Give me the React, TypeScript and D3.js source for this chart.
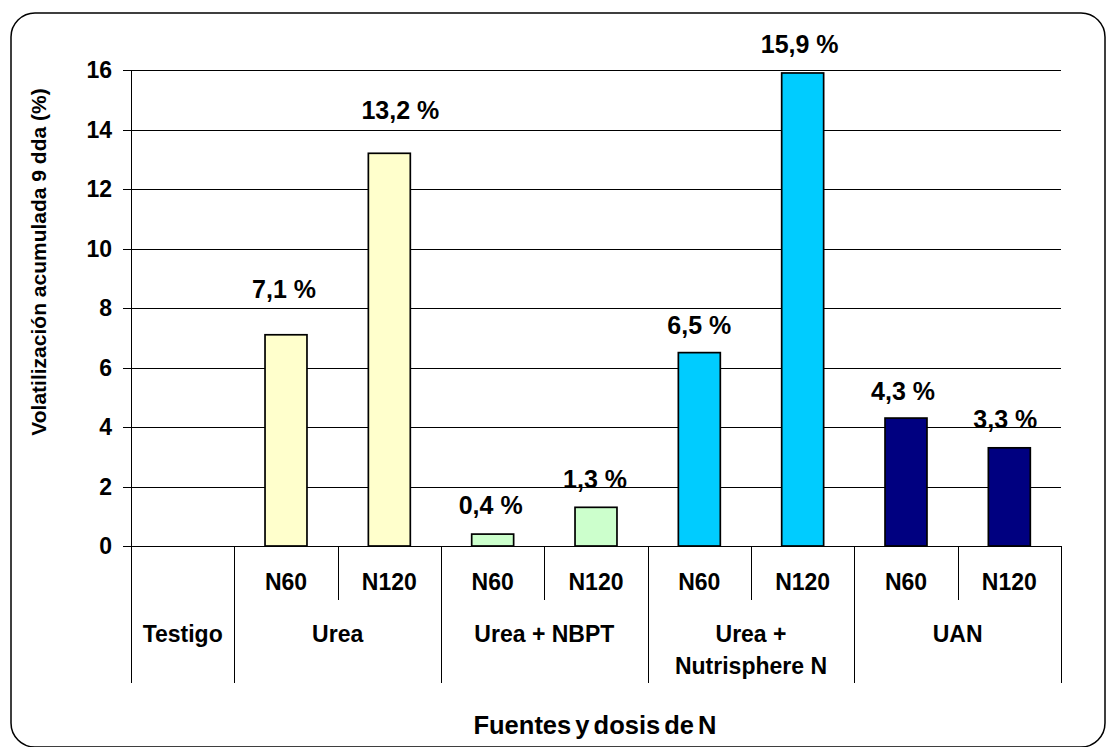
import React from "react";
import * as d3 from "d3";

// ---- data ----
const groups = ["Testigo", "Urea", "Urea + NBPT", "Urea + Nutrisphere N", "UAN"];
const doses = ["N60", "N120"];
const ureaValues = [7.1, 13.2];
const nbptValues = [0.4, 1.3];
const nutrisphereValues = [6.5, 15.9];
const uanValues = [4.3, 3.3];
const valueLabels = ["7,1 %", "13,2 %", "0,4 %", "1,3 %", "6,5 %", "15,9 %", "4,3 %", "3,3 %"];
const yTicks = [0, 2, 4, 6, 8, 10, 12, 14, 16];
const yTitle = "Volatilización acumulada 9 dda (%)";
const xTitle = "Fuentes y dosis de N";

// ---- style (not data) ----
const groupColors = ["none", "#FFFFCC", "#CCFFCC", "#00CCFF", "#000080"];
const labelDx = [-2, 11, -2, -1, 0, -3, -3, -4];
const labelGap = [37, 34, 20, 19, 19, 20, 18, 20];

const W = 1107;
const H = 747;
const plotLeft = 131;
const plotRight = 1061;
const plotTop = 70;
const plotBottom = 546;
const FONT = "'Liberation Sans', Arial, sans-serif";

export default function App() {
  const seriesByGroup = [null, ureaValues, nbptValues, nutrisphereValues, uanValues];
  const slots: { key: string; group: number; dose: number | null; value: number | null }[] = [];
  groups.forEach((g, gi) => {
    const vals = seriesByGroup[gi];
    if (!vals) slots.push({ key: g, group: gi, dose: null, value: null });
    else doses.forEach((d, di) => slots.push({ key: g + "|" + d, group: gi, dose: di, value: vals[di] }));
  });

  const x = d3.scaleBand<string>().domain(slots.map((s) => s.key)).range([plotLeft, plotRight]).paddingInner(0).paddingOuter(0);
  const y = d3.scaleLinear().domain([0, 16]).range([plotBottom, plotTop]);
  const bw = x.bandwidth() * 0.406;

  const bars = slots.filter((s) => s.value !== null);

  const groupSpans = groups.map((g, gi) => {
    const ss = slots.filter((s) => s.group === gi);
    const x0 = x(ss[0].key)!;
    const x1 = x(ss[ss.length - 1].key)! + x.bandwidth();
    return { g, gi, x0, x1 };
  });

  const subRowY = 590;
  const groupRowY = 642;
  const tableBottom = 683;

  return (
    <div style={{ position: "fixed", left: 0, top: 0 }}>
      <svg width={W} height={H} style={{ display: "block", background: "#fff" }} fontFamily={FONT}>
        <rect x={11} y={13} width={1094} height={734} rx={24} ry={24} fill="#fff" stroke="#000" strokeWidth={1.5} />

        {yTicks.map((t) => (
          <g key={t}>
            <line x1={plotLeft - 8} x2={plotRight} y1={Math.round(y(t)) + 0.5} y2={Math.round(y(t)) + 0.5} stroke="#000" strokeWidth={1} />
            <text x={112} y={y(t)} dy="0.35em" textAnchor="end" fontSize={23} fontWeight="bold">
              {t}
            </text>
          </g>
        ))}

        {bars.map((s, i) => {
          const cx = x(s.key)! + x.bandwidth() / 2;
          return (
            <g key={s.key}>
              <rect x={cx - bw / 2} y={y(s.value!)} width={bw} height={plotBottom - y(s.value!)} fill={groupColors[s.group]} stroke="#000" strokeWidth={1.7} />
              <text x={cx + labelDx[i]} y={y(s.value!) - labelGap[i]} textAnchor="middle" fontSize={25} fontWeight="bold">
                {valueLabels[i]}
              </text>
            </g>
          );
        })}

        <line x1={plotLeft + 0.5} x2={plotLeft + 0.5} y1={plotTop} y2={tableBottom} stroke="#000" strokeWidth={1} />
        <line x1={plotLeft} x2={plotRight} y1={plotBottom + 0.5} y2={plotBottom + 0.5} stroke="#000" strokeWidth={1.2} />

        {groupSpans.map((gs) => (
          <line key={"gb" + gs.gi} x1={Math.round(gs.x1) + 0.5} x2={Math.round(gs.x1) + 0.5} y1={plotBottom} y2={tableBottom} stroke="#000" strokeWidth={1} />
        ))}
        {slots
          .filter((s) => s.dose === 0)
          .map((s) => {
            const xb = x(s.key)! + x.bandwidth();
            return <line key={"sb" + s.key} x1={Math.round(xb) + 0.5} x2={Math.round(xb) + 0.5} y1={plotBottom} y2={600} stroke="#000" strokeWidth={1} />;
          })}
        {slots
          .filter((s) => s.dose !== null)
          .map((s) => (
            <text key={"dl" + s.key} x={x(s.key)! + x.bandwidth() / 2} y={subRowY} textAnchor="middle" fontSize={23} fontWeight="bold">
              {doses[s.dose!]}
            </text>
          ))}
        {groupSpans.map((gs) => {
          const cx = (gs.x0 + gs.x1) / 2;
          const lines = gs.g === "Urea + Nutrisphere N" ? ["Urea +", "Nutrisphere N"] : [gs.g];
          return (
            <text key={"gl" + gs.gi} x={cx} y={groupRowY} textAnchor="middle" fontSize={23} fontWeight="bold">
              {lines.map((l, li) => (
                <tspan key={li} x={cx} dy={li === 0 ? 0 : 32}>
                  {l}
                </tspan>
              ))}
            </text>
          );
        })}

        <text transform={`translate(46, 262) rotate(-90)`} textAnchor="middle" fontSize={21} fontWeight="bold">
          {yTitle}
        </text>
        <text x={595} y={734} textAnchor="middle" fontSize={25.5} fontWeight="bold" wordSpacing={-3}>
          {xTitle}
        </text>
      </svg>
    </div>
  );
}
